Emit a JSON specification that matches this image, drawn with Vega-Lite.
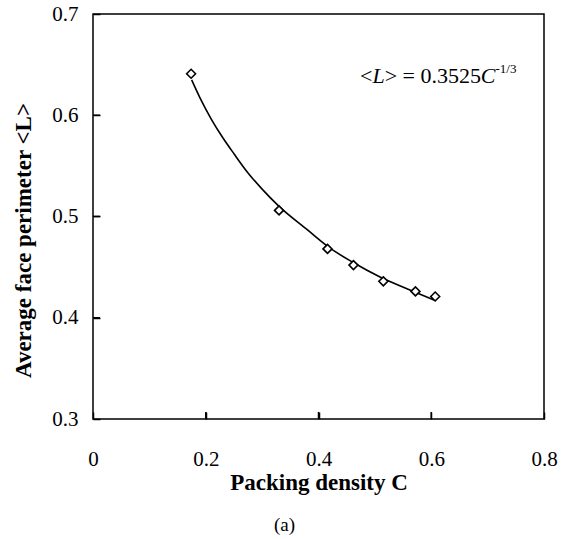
{
  "$schema": "https://vega.github.io/schema/vega-lite/v6.json",
  "width": 451,
  "height": 405,
  "autosize": "none",
  "padding": {"left": 93, "top": 14, "right": 25, "bottom": 120},
  "background": "white",
  "config": {
    "view": {"stroke": "black", "strokeWidth": 1.5},
    "font": "Liberation Serif",
    "axis": {
      "grid": false,
      "domain": false,
      "zindex": 1,
      "offset": -7,
      "ticks": true,
      "tickOpacity": 1,
      "tickColor": "black",
      "tickWidth": 1.5,
      "tickSize": 7,
      "labelColor": "black",
      "titleColor": "black",
      "labelFont": "Liberation Serif",
      "titleFont": "Liberation Serif",
      "labelFontSize": 21,
      "titleFontSize": 23,
      "titleFontWeight": "bold"
    }
  },
  "title": {
    "text": "(a)",
    "orient": "bottom",
    "font": "Liberation Serif",
    "fontSize": 19,
    "fontWeight": "normal",
    "color": "black",
    "dx": -34,
    "offset": 22
  },
  "datasets": {
    "curve": [
      {"C": 0.175, "L": 0.635},
      {"C": 0.19, "L": 0.617},
      {"C": 0.21, "L": 0.596},
      {"C": 0.23, "L": 0.578},
      {"C": 0.25, "L": 0.562},
      {"C": 0.275, "L": 0.543},
      {"C": 0.30, "L": 0.527},
      {"C": 0.33, "L": 0.510},
      {"C": 0.38, "L": 0.487},
      {"C": 0.42, "L": 0.469},
      {"C": 0.46, "L": 0.455},
      {"C": 0.51, "L": 0.440},
      {"C": 0.56, "L": 0.428},
      {"C": 0.607, "L": 0.417}
    ],
    "points": [
      {"C": 0.174, "L": 0.641},
      {"C": 0.330, "L": 0.506},
      {"C": 0.416, "L": 0.468},
      {"C": 0.462, "L": 0.452},
      {"C": 0.515, "L": 0.436},
      {"C": 0.572, "L": 0.426},
      {"C": 0.607, "L": 0.421}
    ],
    "xticks": [{"C": 0.2}, {"C": 0.4}, {"C": 0.6}],
    "yticks": [{"L": 0.4}, {"L": 0.5}, {"L": 0.6}],
    "noteNormal": [
      {"C": 0.4736, "L": 0.6317, "t": "<"},
      {"C": 0.5173, "L": 0.6317, "t": "> = 0.3525"}
    ],
    "noteItalic": [
      {"C": 0.4956, "L": 0.6317, "t": "L"},
      {"C": 0.6879, "L": 0.6317, "t": "C"}
    ],
    "noteSup": [
      {"C": 0.7139, "L": 0.6416, "t": "-1/3"}
    ]
  },
  "layer": [
    {
      "data": {"name": "curve"},
      "mark": {"type": "line", "color": "black", "strokeWidth": 1.6, "interpolate": "monotone"},
      "encoding": {
        "x": {
          "field": "C", "type": "quantitative",
          "scale": {"domain": [0, 0.8], "nice": false, "zero": false},
          "axis": {"values": [0, 0.2, 0.4, 0.6, 0.8], "format": "~g", "title": "Packing density C", "labelFlush": false, "labelOverlap": false, "labelPadding": 29, "titlePadding": 2}
        },
        "y": {
          "field": "L", "type": "quantitative",
          "scale": {"domain": [0.3, 0.7], "nice": false, "zero": false},
          "axis": {"values": [0.3, 0.4, 0.5, 0.6, 0.7], "format": ".1f", "title": "Average face perimeter <L>", "labelFlush": false, "labelOverlap": false, "labelPadding": 15, "titlePadding": 16, "titleY": 226}
        }
      }
    },
    {
      "data": {"name": "xticks"},
      "mark": {"type": "rule", "color": "black", "strokeWidth": 1.5},
      "encoding": {
        "x": {"field": "C", "type": "quantitative"},
        "y": {"datum": 0.3},
        "y2": {"datum": 0.307}
      }
    },
    {
      "data": {"name": "yticks"},
      "mark": {"type": "rule", "color": "black", "strokeWidth": 1.5},
      "encoding": {
        "y": {"field": "L", "type": "quantitative"},
        "x": {"datum": 0},
        "x2": {"datum": 0.0125}
      }
    },
    {
      "data": {"name": "points"},
      "mark": {"type": "point", "shape": "diamond", "filled": true, "fill": "white", "stroke": "black", "strokeWidth": 1.6, "size": 80, "opacity": 1},
      "encoding": {
        "x": {"field": "C", "type": "quantitative"},
        "y": {"field": "L", "type": "quantitative"}
      }
    },
    {
      "data": {"name": "noteNormal"},
      "mark": {"type": "text", "align": "left", "baseline": "alphabetic", "font": "Liberation Serif", "fontSize": 22, "color": "black"},
      "encoding": {
        "x": {"field": "C", "type": "quantitative"},
        "y": {"field": "L", "type": "quantitative"},
        "text": {"field": "t"}
      }
    },
    {
      "data": {"name": "noteItalic"},
      "mark": {"type": "text", "align": "left", "baseline": "alphabetic", "font": "Liberation Serif", "fontStyle": "italic", "fontSize": 22, "color": "black"},
      "encoding": {
        "x": {"field": "C", "type": "quantitative"},
        "y": {"field": "L", "type": "quantitative"},
        "text": {"field": "t"}
      }
    },
    {
      "data": {"name": "noteSup"},
      "mark": {"type": "text", "align": "left", "baseline": "alphabetic", "font": "Liberation Serif", "fontSize": 13, "color": "black"},
      "encoding": {
        "x": {"field": "C", "type": "quantitative"},
        "y": {"field": "L", "type": "quantitative"},
        "text": {"field": "t"}
      }
    }
  ]
}
